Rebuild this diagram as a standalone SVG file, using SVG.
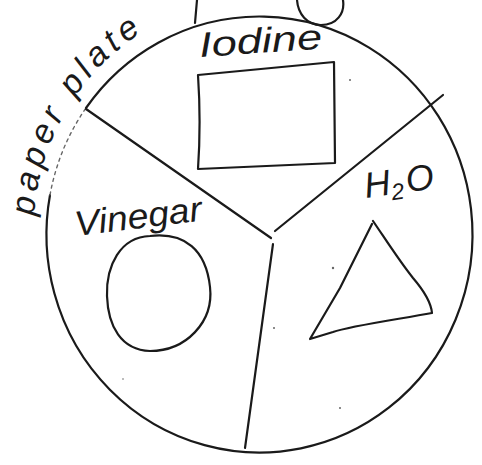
<svg xmlns="http://www.w3.org/2000/svg" width="482" height="465" viewBox="0 0 482 465">
<defs>
<path id="labelArc" d="M34 216 A230 235 0 0 1 263 -3"/>
</defs>
<style>
.ln{fill:none;stroke:#1a1a1a;stroke-width:2.2;stroke-linecap:round;stroke-linejoin:round}
.faint{fill:none;stroke:#666;stroke-width:1.4;stroke-dasharray:3 4;stroke-linecap:round}
.hw{font-family:"Liberation Sans","DejaVu Sans",sans-serif;font-style:italic;fill:#1a1a1a}
.dot{fill:#666}
</style>
<rect width="482" height="465" fill="#ffffff"/>
<g id="top-marks">
<path class="ln" d="M197 0 L195 23"/>
<path class="ln" d="M297 0 C298 14 307 25 321 25 C337 25 345 13 343 0"/>
</g>
<g id="plate">
<path class="ln" d="M86 108 A213 218 0 1 1 50 195"/>
<path class="faint" d="M50 195 A213 218 0 0 1 86 108"/>
</g>
<g id="connectors">
<path class="ln" d="M86 109 L271 238"/>
<path class="ln" d="M275 231 L443 95"/>
<path class="ln" d="M273 244 L245 448"/>
</g>
<g id="iodine">
<text class="hw" x="200" y="57" font-size="35" textLength="123" lengthAdjust="spacingAndGlyphs" transform="rotate(-4 200 57)">Iodine</text>
<path class="ln" d="M198 75 L334 62 L335 163 L198 169 C200 140 200 105 198 75 Z"/>
</g>
<g id="vinegar">
<text class="hw" x="76" y="236" font-size="35" textLength="128" lengthAdjust="spacingAndGlyphs" transform="rotate(-7 76 236)">Vinegar</text>
<path class="ln" d="M150 236 C185 232 206 250 210 287 C214 322 186 351 150 351 C121 350 108 326 107 296 C106 266 120 237 150 236 Z"/>
</g>
<g id="h2o">
<text class="hw" x="366" y="198" font-size="36" transform="rotate(-8 366 198)">H<tspan font-size="23" dy="6">2</tspan><tspan dy="-6" dx="3">O</tspan></text>
<path class="ln" d="M373 221 C386 240 400 262 413 278 C425 292 431 302 432 313 C400 319 350 326 333 332 L310 339 L340 288 L372 224"/>
</g>
<g id="paper-plate-label">
<text class="hw" font-size="34" letter-spacing="5"><textPath href="#labelArc">paper plate</textPath></text>
</g>
<g id="specks">
<circle class="dot" cx="350" cy="80" r="1"/>
<circle class="dot" cx="333" cy="268" r="1.2"/>
<circle class="dot" cx="274" cy="328" r="1"/>
<circle class="dot" cx="340" cy="408" r="1"/>
<circle class="dot" cx="123" cy="379" r="0.8"/>
</g>
</svg>
